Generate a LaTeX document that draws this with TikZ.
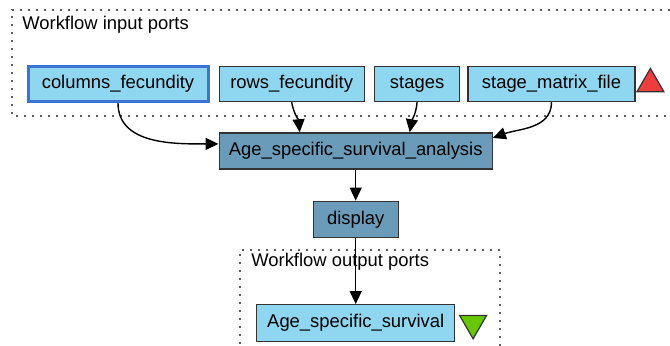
\documentclass[tikz,border=0pt]{standalone}
\usepackage{fontspec}
\setmainfont{Liberation Sans}
\usetikzlibrary{shapes.geometric, positioning, arrows.meta}

\definecolor{portfill}{HTML}{8FD7F0}
\definecolor{procfill}{HTML}{6A9BB8}
\definecolor{selblue}{HTML}{3D72D6}
\definecolor{edgegray}{HTML}{333333}
\definecolor{inred}{HTML}{F03C3C}
\definecolor{outgreen}{HTML}{66C800}

\begin{document}
\begin{tikzpicture}[
		x=0.5pt, y=-0.5pt, % one unit = one pixel of the reference
		node distance=5pt and 4.5pt,
		>={Triangle[length=6.5pt, width=6pt]},
		font=\fontsize{9.2}{11}\selectfont,
		port/.style={
				draw=edgegray,
				line width=0.7pt,
				rectangle,
				fill=portfill,
				minimum height=17.5pt,
				inner sep=0pt
			},
		proc/.style={
				port,
				fill=procfill,
				minimum height=18pt
			},
		cluster/.style={
				draw=edgegray!80,
				line width=0.8pt,
				dash pattern=on 0.8pt off 3.2pt
			},
		marker/.style={
				draw=edgegray,
				line width=0.6pt,
				regular polygon,
				regular polygon sides=3,
				minimum size=15.6pt,
				inner sep=0pt
			},
		flow/.style={
				->,
				line width=0.7pt
			}
	]
	\useasboundingbox (0,0) rectangle (670,345);

	% Clusters
	\draw[cluster] (690,116) -- (12,116) -- (12,10) -- (690,10);
	\draw[cluster] (240,360) -- (240,250) -- (500,250) -- (500,360);
	\node[anchor=west, inner sep=0pt] (inlabel) at (22,25) {Workflow input ports};
	\node[anchor=west, inner sep=0pt] (outlabel) at (251,262) {Workflow output ports};

	% Input ports
	\node[port, minimum width=90pt, draw=selblue, line width=1.5pt, name=cols] at (118,84) {columns\_fecundity};
	\node[port, right=of cols, minimum width=72.5pt, name=rows] {rows\_fecundity};
	\node[port, right=4.5pt of rows, minimum width=42.5pt, name=stages] {stages};
	\node[port, right=3.5pt of stages, minimum width=83.5pt, name=matrix] {stage\_matrix\_file};
	\node[marker, fill=inred, right=2.5pt of matrix, name=intri] {};

	% Processors
	\node[proc, below=15pt of rows.south west, anchor=north west, minimum width=136.5pt, name=analysis] {Age\_specific\_survival\_analysis};
	\node[proc, below=15.5pt of analysis, minimum width=42.5pt, name=display] {display};

	% Output port
	\node[port, below=33pt of display, minimum width=99pt, minimum height=18.5pt, name=survival] {Age\_specific\_survival};
	\node[marker, fill=outgreen, shape border rotate=180, right=4pt of survival, name=outtri] {};

	% Paths
	\draw[flow] (cols.south) to[out=-90, in=180] ([yshift=3.5pt]analysis.west);
	\draw[flow] (rows.south) to[out=-80, in=95] ([xshift=-28pt]analysis.north);
	\draw[flow] (stages.south) to[out=-95, in=80] ([xshift=27pt]analysis.north);
	\draw[flow] (matrix.south) to[out=-90, in=20] ([yshift=6.5pt]analysis.east);
	\draw[flow] (analysis) -- (display);
	\draw[flow] (display) -- (survival);
\end{tikzpicture}
\end{document}
